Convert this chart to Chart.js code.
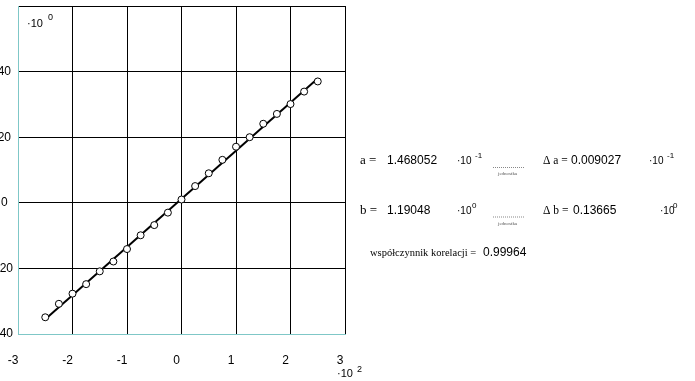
<!DOCTYPE html>
<html>
<head>
<meta charset="utf-8">
<script src="https://cdn.jsdelivr.net/npm/chart.js@4"></script>
<style>
    html, body { margin: 0; padding: 0; background: #fff; }
    #wrap { width: 695px; height: 381px; }
</style>
</head>
<body>
<div id="wrap"><canvas id="chart" width="695" height="381"></canvas></div>
<script>
// pomiary (x w jednostkach 10^2, y w jednostkach 10^0)
const xValues = [-2.5, -2.25, -2, -1.75, -1.5, -1.25, -1, -0.75, -0.5, -0.25, 0, 0.25, 0.5, 0.75, 1, 1.25, 1.5, 1.75, 2, 2.25, 2.5];
const yValues = [-34.9, -30.8, -27.7, -24.8, -20.9, -17.9, -14.1, -9.9, -6.8, -3.0, 1.0, 5.1, 9.0, 13.1, 17.1, 20.0, 24.1, 27.1, 30.1, 33.9, 37.0];

// prosta dopasowana (końce odcinka)
const fitX = [-2.5, 2.5];
const fitY = [-35.5, 37.9];

const xTicks = [-3, -2, -1, 0, 1, 2, 3];
const yTicks = [-40, -20, 0, 20, 40, 60];

const results = [
    { label: 'a =', value: '1.468052', exp: '-1', dLabel: '\u0394 a =', dValue: '0.009027', dExp: '-1' },
    { label: 'b =', value: '1.19048', exp: '0', dLabel: '\u0394 b =', dValue: '0.13665', dExp: '0' },
];
const corrLabel = 'współczynnik korelacji =';
const corrValue = '0.99964';

const SERIF = '"Liberation Serif", "Times New Roman", serif';
const SANS = '"Liberation Sans", Arial, sans-serif';

const points = xValues.map((x, i) => ({ x, y: yValues[i] }));
const fitLine = fitX.map((x, i) => ({ x, y: fitY[i] }));

// napisy obok wykresu (mnożniki osi i wyniki regresji)
const textPlugin = {
    id: 'mathcadText',
    afterDraw(chart) {
        const c = chart.ctx;
        c.save();
        c.fillStyle = '#000';
        c.textBaseline = 'alphabetic';
        c.textAlign = 'left';

        const txt = (s, x, y, font) => { c.font = font; c.fillText(s, x, y); };

        // mnożniki osi
        txt('\u00b710', 27, 27, '11px ' + SANS);
        txt('0', 48, 20, '9px ' + SANS);
        txt('\u00b710', 337, 377, '11px ' + SANS);
        txt('2', 357, 372, '9px ' + SANS);

        const rowsY = [164, 213.5];
        const expX = [475, 472];
        const dValX = [571, 573];
        const dMulX = [649, 660];
        const dExpX = [667, 673];
        results.forEach((r, i) => {
            const y = rowsY[i];
            txt(r.label, 360, y, '13px ' + SERIF);
            txt(r.value, 387, y, '12px ' + SANS);
            txt('\u00b710', 457, y, '10px ' + SANS);
            txt(r.exp, expX[i], y - 6, '8px ' + SANS);

            // kreska ułamka z "jednostka"
            c.strokeStyle = '#888';
            c.lineWidth = 1;
            c.setLineDash([1, 1]);
            c.beginPath();
            c.moveTo(493, y + 3.5);
            c.lineTo(525, y + 3.5);
            c.stroke();
            c.setLineDash([]);
            c.fillStyle = '#555';
            txt('jednostka', 498, y + 11, '5px ' + SERIF);
            c.fillStyle = '#000';

            txt(r.dLabel, 543, y, '11.5px ' + SERIF);
            txt(r.dValue, dValX[i], y, '12px ' + SANS);
            txt('\u00b710', dMulX[i], y, '10px ' + SANS);
            txt(r.dExp, dExpX[i], y - 6, '8px ' + SANS);
        });

        txt(corrLabel, 370, 256, '10.5px ' + SERIF);
        txt(corrValue, 483, 256, '12px ' + SANS);
        c.restore();
    }
};

// stałe wymiary obszaru wykresu, bez dodatkowego marginesu na etykiety
const fixX = s => { s.height = 47; s.paddingLeft = 0; s.paddingRight = 0; };
const fixY = s => { s.width = 22; s.paddingTop = 0; s.paddingBottom = 0; };

new Chart(document.getElementById('chart'), {
    type: 'scatter',
    data: {
        datasets: [
            {
                label: 'pomiary',
                data: points,
                showLine: false,
                pointRadius: 3.5,
                pointBackgroundColor: '#fff',
                pointBorderColor: '#000',
                pointBorderWidth: 1,
                order: 0,
            },
            {
                type: 'line',
                label: 'dopasowanie',
                data: fitLine,
                borderColor: '#000',
                borderWidth: 2,
                pointRadius: 0,
                fill: false,
                order: 1,
            }
        ]
    },
    options: {
        responsive: false,
        animation: false,
        events: [],
        layout: { padding: { left: -4, top: 6, right: 350, bottom: 0 } },
        plugins: {
            legend: { display: false },
            tooltip: { enabled: false },
        },
        scales: {
            x: {
                type: 'linear',
                min: -3,
                max: 3,
                afterBuildTicks: s => { s.ticks = xTicks.map(v => ({ value: v })); },
                afterFit: fixX,
                grid: { color: '#000', lineWidth: 1, drawTicks: false },
                border: { color: '#7fc7c7', width: 1 },
                ticks: {
                    color: '#000',
                    font: { family: SANS, size: 12 },
                    padding: 19,
                    labelOffset: -5,
                    maxRotation: 0,
                    autoSkip: false,
                },
            },
            y: {
                type: 'linear',
                min: -40,
                max: 60,
                afterBuildTicks: s => { s.ticks = yTicks.map(v => ({ value: v })); },
                afterFit: fixY,
                grid: { color: '#000', lineWidth: 1, drawTicks: false },
                border: { color: '#7fc7c7', width: 1 },
                ticks: {
                    color: '#000',
                    font: { family: SANS, size: 12 },
                    padding: 5,
                    crossAlign: 'center',
                    autoSkip: false,
                    callback: v => (v === 60 ? '' : String(v)),
                },
            }
        }
    },
    plugins: [textPlugin]
});
</script>
</body>
</html>
